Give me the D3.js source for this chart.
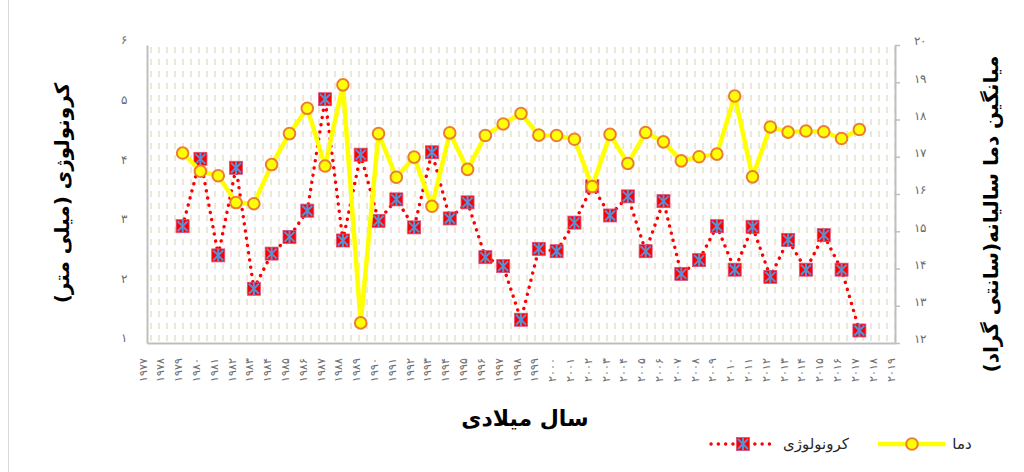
<!DOCTYPE html>
<html><head><meta charset="utf-8">
<script src="https://cdn.jsdelivr.net/npm/d3@7"></script>
<style>body{margin:0;background:#fff} svg{display:block;font-family:"DejaVu Sans",sans-serif}</style>
</head><body><svg id="c" width="1024" height="472"></svg>
<script>
// ---- data ----
const years = [1979,1980,1981,1982,1983,1984,1985,1986,1987,1988,1989,1990,1991,1992,1993,1994,1995,1996,1997,1998,1999,2000,2001,2002,2003,2004,2005,2006,2007,2008,2009,2010,2011,2012,2013,2014,2015,2016,2017];
const chronology = [2.96,4.09,2.47,3.94,1.91,2.50,2.78,3.22,5.09,2.72,4.16,3.05,3.41,2.94,4.20,3.09,3.36,2.44,2.29,1.39,2.58,2.54,3.02,3.63,3.14,3.46,2.54,3.38,2.16,2.39,2.96,2.23,2.95,2.11,2.73,2.23,2.81,2.23,1.21];
const temperature = [17.10,16.61,16.49,15.77,15.74,16.79,17.62,18.30,16.75,18.93,12.54,17.62,16.45,16.99,15.67,17.64,16.66,17.57,17.88,18.16,17.58,17.57,17.47,16.20,17.60,16.82,17.65,17.40,16.89,17.00,17.07,18.63,16.46,17.80,17.66,17.69,17.67,17.49,17.73];
const xTickYears = [1977,1978,1979,1980,1981,1982,1983,1984,1985,1986,1987,1988,1989,1990,1991,1992,1993,1994,1995,1996,1997,1998,1999,2000,2001,2002,2003,2004,2005,2006,2007,2008,2009,2010,2011,2012,2013,2014,2015,2016,2017,2018,2019];
const leftTicks = [1,2,3,4,5,6];
const rightTicks = [12,13,14,15,16,17,18,19,20];
const seriesNames = ["کرونولوژی","دما"];
const leftTitle = "کرونولوژی (میلی متر)";
const rightTitle = "میانگین دما سالیانه(سانتی گراد)";
const xTitle = "سال  میلادی";

const toFa = n => String(n).replace(/\d/g, d => "۰۱۲۳۴۵۶۷۸۹"[+d]);

const svg = d3.select("#c");
const L = 147, R = 895, T = 45, B = 343;
const x = d3.scaleLinear().domain([1977, 2019]).range([L, R]);
const yL = d3.scaleLinear().domain([1, 6]).range([B, T]);
const yR = d3.scaleLinear().domain([12, 20]).range([B, T]);

// border line at left
svg.append("line").attr("x1",8.5).attr("x2",8.5).attr("y1",0).attr("y2",472).attr("stroke","#d9d9d9").attr("stroke-width",1);

// hatch pattern
const defs = svg.append("defs");
const pat = defs.append("pattern").attr("id","hatch").attr("patternUnits","userSpaceOnUse")
  .attr("width",8).attr("height",12).attr("x",L).attr("y",T);
pat.append("rect").attr("x",3.2).attr("y",2).attr("width",1.6).attr("height",6).attr("fill","#e6e2d2");
svg.append("rect").attr("x",L).attr("y",T).attr("width",R-L).attr("height",B-T).attr("fill","url(#hatch)");

// axes
const axisColor = "#bfbfbf", tickText = "#6b6b6b";
const gL = svg.append("g").attr("transform",`translate(${L},0)`)
  .call(d3.axisLeft(yL).tickValues(leftTicks).tickFormat(toFa).tickSize(0).tickPadding(20));
gL.select(".domain").attr("stroke",axisColor).attr("stroke-width",2);
gL.selectAll("text").attr("fill",tickText).attr("font-size",12).attr("y",-5);

const gR = svg.append("g").attr("transform",`translate(${R},0)`)
  .call(d3.axisRight(yR).tickValues(rightTicks).tickFormat(toFa).tickSize(5).tickSizeOuter(0).tickPadding(14));
gR.select(".domain").attr("stroke",axisColor).attr("stroke-width",2);
gR.selectAll("line").attr("stroke",axisColor).attr("stroke-width",1.5);
gR.selectAll("text").attr("fill",tickText).attr("font-size",12).attr("y",-4);

const gB = svg.append("g").attr("transform",`translate(0,${B})`)
  .call(d3.axisBottom(x).tickValues(xTickYears).tickFormat(toFa).tickSize(0).tickSizeOuter(0));
gB.select(".domain").attr("stroke",axisColor).attr("stroke-width",2);
gB.selectAll("text").attr("fill",tickText).attr("font-size",11).attr("letter-spacing","2px")
  .attr("direction","ltr").attr("text-anchor","end").attr("x",0).attr("y",0).attr("dy",0)
  .attr("transform","translate(-1,15) rotate(-90)");

// series data
const data = years.map((yr,i)=>({year:yr, c:chronology[i], t:temperature[i]}));

// chronology (primary axis)
const redLine = d3.line().x(d=>x(d.year)).y(d=>yL(d.c));
svg.append("path").datum(data).attr("d",redLine).attr("fill","none").attr("stroke","#ff0000")
  .attr("stroke-width",3.4).attr("stroke-linecap","round").attr("stroke-dasharray","0.1 7.2");
function starMarker(g){
  g.append("rect").attr("x",-6.5).attr("y",-6.5).attr("width",13).attr("height",13).attr("fill","#ff0000")
    .attr("stroke","#e0507a").attr("stroke-width",0.8);
  const s = "#5b8fd6";
  g.append("line").attr("x1",-5).attr("y1",-5).attr("x2",5).attr("y2",5).attr("stroke",s).attr("stroke-width",2);
  g.append("line").attr("x1",-5).attr("y1",5).attr("x2",5).attr("y2",-5).attr("stroke",s).attr("stroke-width",2);
  g.append("line").attr("x1",0).attr("y1",-6.5).attr("x2",0).attr("y2",6.5).attr("stroke",s).attr("stroke-width",2);
}
svg.append("g").selectAll("g").data(data).join("g")
  .attr("transform",d=>`translate(${x(d.year)},${yL(d.c)})`).each(function(){ starMarker(d3.select(this)); });

// temperature (secondary axis)
const yelLine = d3.line().x(d=>x(d.year)).y(d=>yR(d.t));
svg.append("path").datum(data).attr("d",yelLine).attr("fill","none").attr("stroke","#ffff00")
  .attr("stroke-width",4.5).attr("stroke-linejoin","round");
svg.append("g").selectAll("circle").data(data).join("circle")
  .attr("cx",d=>x(d.year)).attr("cy",d=>yR(d.t)).attr("r",5.8)
  .attr("fill","#ffff00").attr("stroke","#ed7d31").attr("stroke-width",2);

// titles
svg.append("text").attr("transform","translate(62,193) rotate(-90)").attr("text-anchor","middle")
  .attr("dominant-baseline","central").attr("font-size",20).attr("font-weight","bold").attr("fill","#000").text(leftTitle);
svg.append("text").attr("transform","translate(991,214) rotate(-90)").attr("text-anchor","middle")
  .attr("dominant-baseline","central").attr("font-size",20).attr("font-weight","bold").attr("fill","#000").text(rightTitle);
svg.append("text").attr("x",525).attr("y",418).attr("text-anchor","middle")
  .attr("dominant-baseline","central").attr("font-size",22).attr("font-weight","bold").attr("fill","#000").text(xTitle);

// legend
const lg = svg.append("g");
lg.append("line").attr("x1",711).attr("x2",773).attr("y1",444).attr("y2",444).attr("stroke","#ff0000")
  .attr("stroke-width",3.4).attr("stroke-linecap","round").attr("stroke-dasharray","0.1 7.2");
starMarker(lg.append("g").attr("transform","translate(743,444)"));
lg.append("text").attr("x",816).attr("y",444).attr("text-anchor","middle").attr("dominant-baseline","central")
  .attr("font-size",15).attr("fill","#262626").text(seriesNames[0]);
lg.append("line").attr("x1",878).attr("x2",945).attr("y1",444).attr("y2",444).attr("stroke","#ffff00").attr("stroke-width",4.5);
lg.append("circle").attr("cx",912).attr("cy",444).attr("r",5.8).attr("fill","#ffff00").attr("stroke","#ed7d31").attr("stroke-width",2);
lg.append("text").attr("x",962).attr("y",444).attr("text-anchor","middle").attr("dominant-baseline","central")
  .attr("font-size",15).attr("fill","#262626").text(seriesNames[1]);
</script></body></html>
